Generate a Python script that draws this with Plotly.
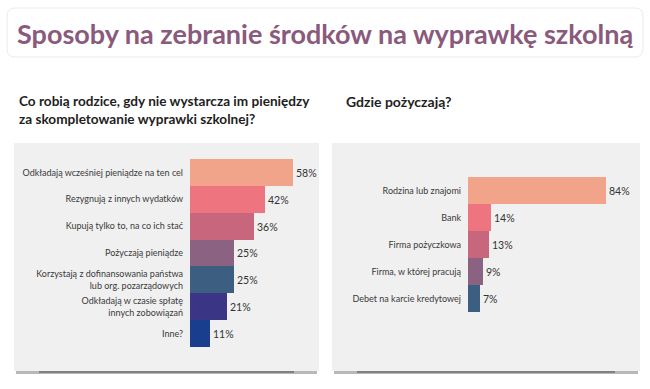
import plotly.graph_objects as go

W, H = 650, 389

title_text = "Sposoby na zebranie środków na wyprawkę szkolną"
left_title = "Co robią rodzice, gdy nie wystarcza im pieniędzy<br>za skompletowanie wyprawki szkolnej?"
right_title = "Gdzie pożyczają?"

left_categories = [
    "Odkładają wcześniej pieniądze na ten cel",
    "Rezygnują z innych wydatków",
    "Kupują tylko to, na co ich stać",
    "Pożyczają pieniądze",
    "Korzystają z dofinansowania państwa<br>lub org. pozarządowych",
    "Odkładają w czasie spłatę<br>innych zobowiązań",
    "Inne?",
]
left_values = [58, 42, 36, 25, 25, 21, 11]
left_colors = ["#F2A48B", "#EE7480", "#C8667E", "#8C6283", "#3C5E80", "#3A3585", "#1A3E8E"]

right_categories = [
    "Rodzina lub znajomi",
    "Bank",
    "Firma pożyczkowa",
    "Firma, w której pracują",
    "Debet na karcie kredytowej",
]
right_values = [84, 14, 13, 9, 7]
right_colors = ["#F2A48B", "#EE7480", "#C8667E", "#8C6283", "#3C5E80"]


def px(x):
    return x / W


def py(y):
    return 1 - y / H


FONT = "Lato"
LABEL_COLOR = "#3a3a3a"

fig = go.Figure()
fig.add_trace(go.Bar(
    x=left_values, y=left_categories, orientation="h",
    marker=dict(color=left_colors, line=dict(width=0)),
    texttemplate="%{x}%", textposition="outside", cliponaxis=False,
    textfont=dict(family=FONT, size=10.5, color="#333333"),
    xaxis="x", yaxis="y", hoverinfo="skip",
))
fig.add_trace(go.Bar(
    x=right_values, y=right_categories, orientation="h",
    marker=dict(color=right_colors, line=dict(width=0)),
    texttemplate="%{x}%", textposition="outside", cliponaxis=False,
    textfont=dict(family=FONT, size=10.5, color="#333333"),
    xaxis="x2", yaxis="y2", hoverinfo="skip",
))

axis_common = dict(showgrid=False, zeroline=False, showline=False, fixedrange=True)

shapes = []
# title box
x0, x1, y0, y1, r = 7, 643, 8, 57, 8
path = (
    f"M {px(x0 + r)} {py(y0)} L {px(x1 - r)} {py(y0)} "
    f"Q {px(x1)} {py(y0)} {px(x1)} {py(y0 + r)} L {px(x1)} {py(y1 - r)} "
    f"Q {px(x1)} {py(y1)} {px(x1 - r)} {py(y1)} L {px(x0 + r)} {py(y1)} "
    f"Q {px(x0)} {py(y1)} {px(x0)} {py(y1 - r)} L {px(x0)} {py(y0 + r)} "
    f"Q {px(x0)} {py(y0)} {px(x0 + r)} {py(y0)} Z"
)
shapes.append(dict(type="path", path=path, xref="paper", yref="paper",
                   fillcolor="white", line=dict(color="#ebebeb", width=1), layer="below"))

# gray panels with bottom shadows
for (a, b) in [(14, 319), (332, 640)]:
    shapes.append(dict(type="rect", xref="paper", yref="paper",
                       x0=px(a + 2), x1=px(b - 2), y0=py(374), y1=py(369),
                       fillcolor="#b8b8b8", line=dict(width=0), layer="below"))
    shapes.append(dict(type="rect", xref="paper", yref="paper",
                       x0=px(a + 25), x1=px(b - 25), y0=py(373), y1=py(370),
                       fillcolor="#808080", line=dict(width=0), layer="below"))
    shapes.append(dict(type="rect", xref="paper", yref="paper",
                       x0=px(a), x1=px(b), y0=py(371), y1=py(143),
                       fillcolor="#f0f0f0", line=dict(width=0), layer="below"))

annotations = [
    dict(text=f"<b>{title_text}</b>", x=0.5, y=py(33), xref="paper", yref="paper",
         showarrow=False, xanchor="center", yanchor="middle",
         font=dict(family=FONT, size=27, color="#8A5A7C")),
    dict(text=f"<b>{left_title}</b>", x=px(17), y=py(110), xref="paper", yref="paper",
         showarrow=False, xanchor="left", yanchor="middle", align="left",
         font=dict(family=FONT, size=13.6, color="#1e1e1e")),
    dict(text=f"<b>{right_title}</b>", x=px(344), y=py(102), xref="paper", yref="paper",
         showarrow=False, xanchor="left", yanchor="middle", align="left",
         font=dict(family=FONT, size=14, color="#1e1e1e")),
]

fig.update_layout(
    width=W, height=H,
    margin=dict(l=0, r=0, t=0, b=0),
    paper_bgcolor="white", plot_bgcolor="rgba(0,0,0,0)",
    showlegend=False, bargap=0,
    xaxis=dict(domain=[px(190), px(318)], range=[0, 72], showticklabels=False, **axis_common),
    yaxis=dict(domain=[py(347), py(159)], autorange="reversed", anchor="x",
               tickfont=dict(family=FONT, size=9, color=LABEL_COLOR),
               ticklabelstandoff=6, ticks="", **axis_common),
    xaxis2=dict(domain=[px(468), px(639)], range=[0, 104], showticklabels=False,
                anchor="y2", **axis_common),
    yaxis2=dict(domain=[py(312), py(177)], autorange="reversed", anchor="x2",
                tickfont=dict(family=FONT, size=9, color=LABEL_COLOR),
                ticklabelstandoff=6, ticks="", **axis_common),
    shapes=shapes,
    annotations=annotations,
)

fig.write_html("out.html", config={"displayModeBar": False},
               post_script="document.body.style.margin='0';")
